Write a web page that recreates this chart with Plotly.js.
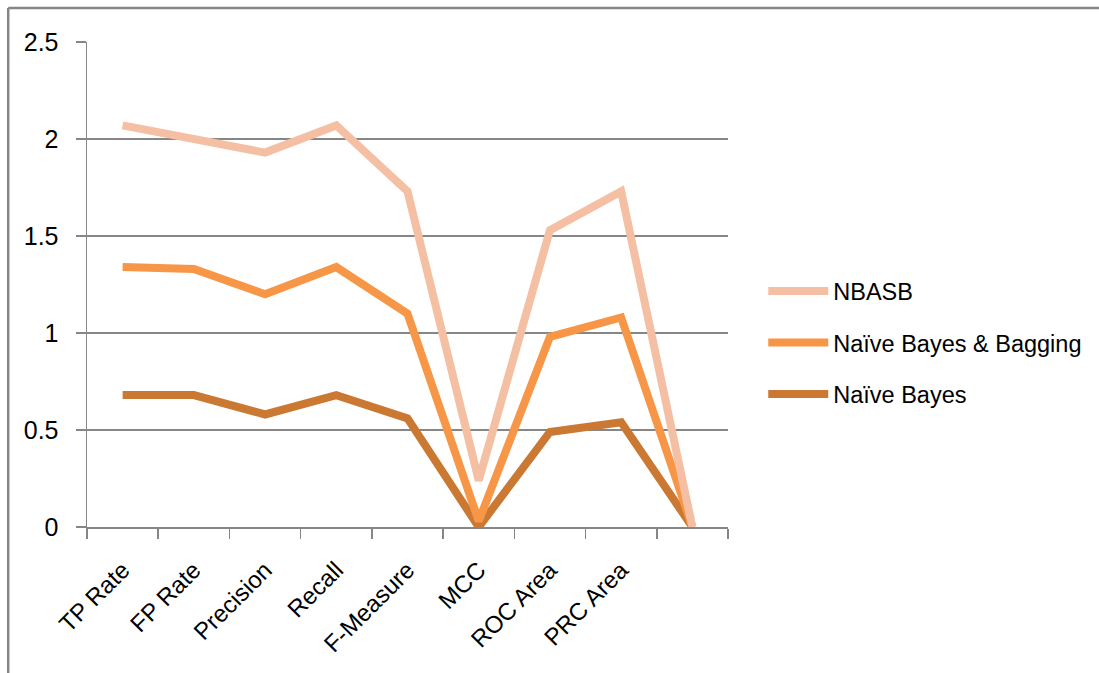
<!DOCTYPE html>
<html>
<head>
<meta charset="utf-8">
<script src="https://cdn.plot.ly/plotly-3.0.1.min.js"></script>
<style>
  html, body { margin: 0; padding: 0; background: #ffffff; }
  #chart { width: 1099px; height: 673px; }
</style>
</head>
<body>
<div id="chart"></div>
<script>
// Categories (last category has no label)
const categories = ['TP Rate', 'FP Rate', 'Precision', 'Recall', 'F-Measure', 'MCC', 'ROC Area', 'PRC Area', ' '];

// Stacked series values (each series stacks on the one before)
const naiveBayes        = [0.68, 0.68, 0.58, 0.68, 0.56, 0.00, 0.49, 0.54, 0];
const naiveBayesBagging = [0.66, 0.65, 0.62, 0.66, 0.54, 0.03, 0.49, 0.54, 0];
const nbasb             = [0.73, 0.67, 0.73, 0.73, 0.63, 0.21, 0.55, 0.65, 0];

const seriesNames = ['Naïve Bayes', 'Naïve Bayes & Bagging', 'NBASB'];
const yTickVals = [0, 0.5, 1, 1.5, 2, 2.5];
const yTickText = ['0', '0.5', '1', '1.5', '2', '2.5'];

const colors = ['#CB7832', '#F79646', '#F5BFA3'];
const seriesData = [naiveBayes, naiveBayesBagging, nbasb];

const FONT = 'Liberation Sans, Arial, sans-serif';

const traces = seriesData.map((vals, i) => ({
  type: 'scatter',
  mode: 'lines',
  x: categories,
  y: vals,
  name: seriesNames[i],
  stackgroup: 'one',
  fill: 'none',
  legendgroup: 'g' + i,
  legendrank: 100 - i,
  line: { color: colors[i], width: 8, shape: 'linear' },
  hoverinfo: 'skip'
}));

const gray = '#868686';

const layout = {
  width: 1099,
  height: 673,
  margin: { l: 87, r: 369, t: 42, b: 146 },
  paper_bgcolor: '#ffffff',
  plot_bgcolor: '#ffffff',
  font: { family: FONT, size: 24, color: '#000000' },
  showlegend: true,
  legend: {
    x: 1.055,
    xanchor: 'left',
    y: 0.38,
    yanchor: 'middle',
    traceorder: 'grouped',
    tracegroupgap: 18,
    itemwidth: 60,
    bgcolor: 'rgba(0,0,0,0)',
    font: { family: FONT, size: 23.5, color: '#000000' }
  },
  xaxis: {
    type: 'category',
    categoryorder: 'array',
    categoryarray: categories,
    range: [-0.5, 8.5],
    tickson: 'boundaries',
    ticks: 'outside',
    ticklen: 10,
    tickwidth: 1.5,
    tickcolor: gray,
    ticklabelstandoff: 18,
    showline: true,
    linecolor: gray,
    linewidth: 1.5,
    showgrid: false,
    zeroline: false,
    tickangle: -45,
    tickfont: { family: FONT, size: 24, color: '#000000' },
    fixedrange: true
  },
  yaxis: {
    range: [0, 2.5],
    tickvals: yTickVals,
    ticktext: yTickText,
    ticks: 'outside',
    ticklen: 10,
    tickwidth: 1.5,
    tickcolor: gray,
    ticklabelstandoff: 12,
    showline: true,
    linecolor: gray,
    linewidth: 1.5,
    showgrid: true,
    gridcolor: gray,
    gridwidth: 1.5,
    zeroline: false,
    tickfont: { family: FONT, size: 25, color: '#000000' },
    fixedrange: true
  },
  shapes: [
    { type: 'line', xref: 'paper', yref: 'paper', x0: -0.1229, x1: 1.6, y0: 1.0701, y1: 1.0701,
      line: { color: gray, width: 2.5 } },
    { type: 'line', xref: 'paper', yref: 'paper', x0: -0.1229, x1: -0.1229, y0: 1.0701, y1: -0.35,
      line: { color: gray, width: 2.5 } }
  ]
};

Plotly.newPlot('chart', traces, layout, { staticPlot: true, displayModeBar: false });
</script>
</body>
</html>
